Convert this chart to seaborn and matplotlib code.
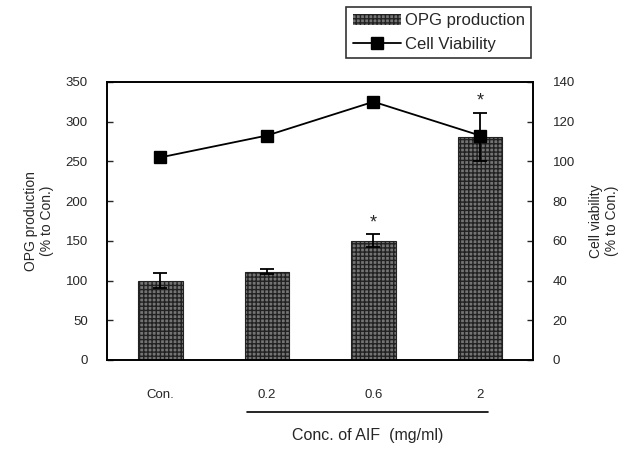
import matplotlib
matplotlib.use("Agg")
import matplotlib.pyplot as plt
from matplotlib.patches import Patch
from matplotlib.lines import Line2D
import numpy as np
import pandas as pd
import seaborn as sns

categories = ["Con.", "0.2", "0.6", "2"]
opg_production = [100, 111, 150, 281]
opg_error = [10, 3, 8, 30]
cell_viability = [102, 113, 130, 113]
significant = [False, False, True, True]

sns.set_style("white")
plt.rcParams['font.family'] = ['Liberation Sans', 'DejaVu Sans']

df = pd.DataFrame({"conc": categories, "opg": opg_production,
                   "viability": cell_viability})

fig = plt.figure(figsize=(6.23, 4.5), dpi=100)
ax = fig.add_axes([0.172, 0.2, 0.684, 0.618])

bar_color = "#747474"
sns.barplot(data=df, x="conc", y="opg", color=bar_color, width=0.42,
            saturation=1, ax=ax, errorbar=None, zorder=2)
for p in ax.patches:
    p.set_hatch("++++")
    p.set_edgecolor("#222222")
    p.set_linewidth(0.8)
xpos = np.arange(len(categories))
ax.errorbar(xpos, opg_production, yerr=opg_error, fmt="none", ecolor="black",
            elinewidth=1.3, capsize=5, capthick=1.3, zorder=4)
for x, y, e, s in zip(xpos, opg_production, opg_error, significant):
    if s:
        ax.text(x, y + e + 4, "*", ha="center", va="bottom", fontsize=13)

ax.set_xlim(-0.5, 3.5)
ax.set_ylim(0, 350)
ax.set_yticks(range(0, 351, 50))
ax.set_xlabel("")
ax.set_ylabel("OPG production\n(% to Con.)", fontsize=10, labelpad=8)
ax.set_xticks(xpos)
ax.set_xticklabels(categories)
ax.set_xticks([0.5, 1.5, 2.5], minor=True)
ax.tick_params(axis="x", which="major", length=0, pad=21, labelsize=9.5)
ax.tick_params(axis="x", which="minor", direction="in", length=4, width=1)
ax.tick_params(axis="y", direction="in", length=4, width=1, labelsize=9.5,
               left=True, pad=14)
for sp in ax.spines.values():
    sp.set_linewidth(1.2)
    sp.set_color("black")

ax2 = ax.twinx()
sns.pointplot(data=df, x="conc", y="viability", color="black", markers="s",
              markersize=9, linewidth=1.3, ax=ax2, errorbar=None)
ax2.set_xlim(-0.5, 3.5)
ax2.set_ylim(0, 140)
ax2.set_yticks(range(0, 141, 20))
ax2.set_ylabel("Cell viability\n(% to Con.)", fontsize=10, labelpad=10)
ax2.set_xlabel("")
ax2.tick_params(axis="y", direction="in", length=4, width=1, labelsize=9.5,
                right=True, pad=14)
for sp in ax2.spines.values():
    sp.set_linewidth(1.2)
    sp.set_color("black")

# bracket line under the concentrations and axis title
fig.add_artist(Line2D([0.397, 0.784], [0.085, 0.085], color="black", lw=1.2))
fig.text(0.59, 0.033, "Conc. of AIF  (mg/ml)", ha="center", va="center",
         fontsize=11.5)

handles = [Patch(facecolor=bar_color, hatch="++++", edgecolor="#222222",
                 linewidth=0),
           Line2D([], [], color="black", marker="s", markersize=9, lw=1.3)]
leg = fig.legend(handles, ["OPG production", "Cell Viability"],
                 loc="upper right", bbox_to_anchor=(0.853, 0.985),
                 fontsize=12, frameon=True, fancybox=False,
                 edgecolor="black", handlelength=2.9, handletextpad=0.2,
                 borderpad=0.4, labelspacing=0.5, borderaxespad=0)
leg.get_frame().set_linewidth(1.2)

fig.savefig("out.png", dpi=100)
